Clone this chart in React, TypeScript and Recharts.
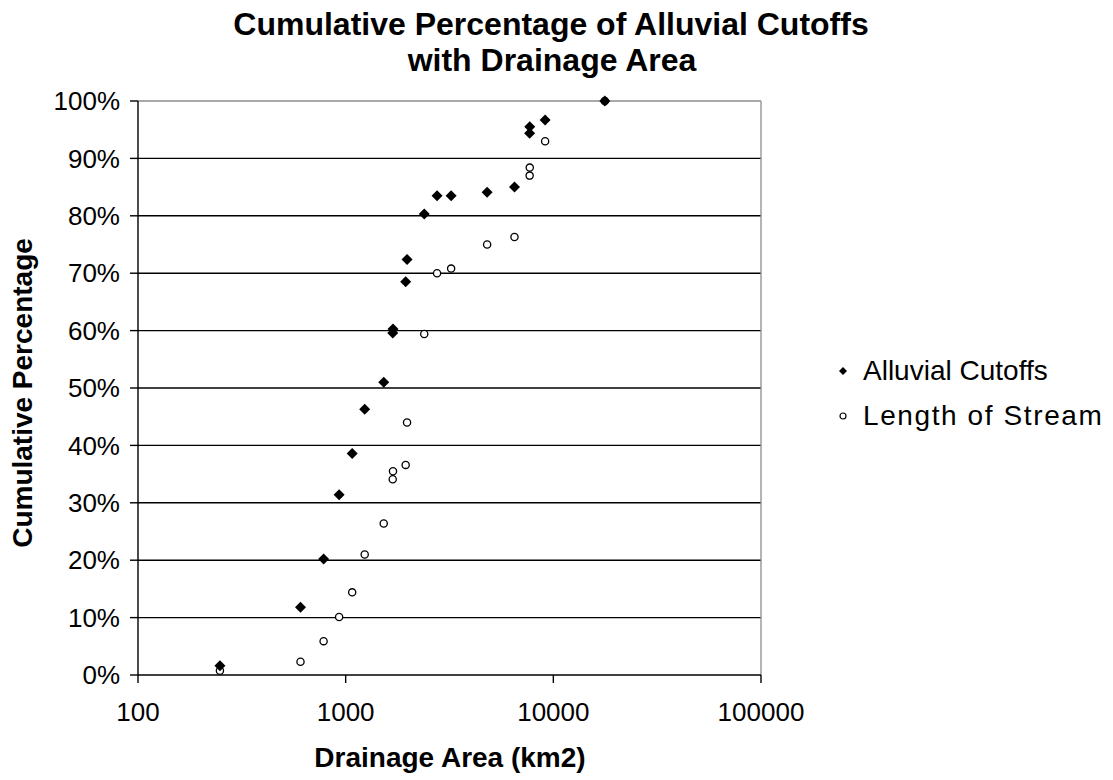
import React from 'react';
import { ScatterChart, Scatter, XAxis, YAxis, CartesianGrid, ReferenceLine, Legend } from 'recharts';

const drainageArea = [248, 606, 783, 930, 1075, 1235, 1525, 1685, 1690, 1945, 1975, 2390, 2755, 3220, 4800, 6500, 7690, 7700, 9130, 17700];
const alluvialPct = [1.6, 11.8, 20.2, 31.4, 38.6, 46.3, 51.0, 59.6, 60.3, 68.5, 72.4, 80.3, 83.5, 83.5, 84.1, 85.0, 94.4, 95.5, 96.7, 100];
const streamPct = [0.75, 2.3, 5.9, 10.1, 14.4, 21.0, 26.4, 34.1, 35.5, 36.6, 44.0, 59.4, 70.0, 70.8, 75.0, 76.3, 87.0, 88.4, 93.0, 100];
const xTicks = [100, 1000, 10000, 100000];
const yTicks = [0, 10, 20, 30, 40, 50, 60, 70, 80, 90, 100];
const gridValues = [10, 20, 30, 40, 50, 60, 70, 80, 90];
const seriesNames = ['Alluvial Cutoffs', 'Length of Stream'];

const alluvialData = drainageArea.map((x, i) => ({ x, y: alluvialPct[i] }));
const streamData = drainageArea.map((x, i) => ({ x, y: streamPct[i] }));

const FONT = '"Liberation Sans", Arial, sans-serif';

const renderDiamond = (props: any) => {
  const { cx, cy } = props;
  if (cx == null || cy == null) return <g />;
  const r = 5.5;
  return <path d={`M${cx},${cy - r}L${cx + r},${cy}L${cx},${cy + r}L${cx - r},${cy}Z`} fill="#000" />;
};

const renderCircle = (props: any) => {
  const { cx, cy } = props;
  if (cx == null || cy == null) return <g />;
  return <circle cx={cx} cy={cy} r={3.6} fill="#fff" stroke="#000" strokeWidth={1.3} />;
};

const LegendContent = () => (
  <div style={{ fontFamily: FONT, fontSize: 28, color: '#000' }}>
    {seriesNames.map((name, i) => (
      <div key={name} style={{ display: 'flex', alignItems: 'center', height: 45, lineHeight: '45px', whiteSpace: 'nowrap' }}>
        <svg width={12} height={12} style={{ marginRight: 14, flex: 'none' }}>
          {i === 0 ? (
            <path d="M6,2L10,6L6,10L2,6Z" fill="#000" />
          ) : (
            <circle cx={6} cy={6} r={3} fill="#fff" stroke="#000" strokeWidth={1.2} />
          )}
        </svg>
        <span style={{ letterSpacing: i === 0 ? 0 : 1.6 }}>{name}</span>
      </div>
    ))}
  </div>
);

export default function App() {
  return (
    <div style={{ position: 'relative', width: 1105, height: 772, fontFamily: FONT, background: '#fff' }}>
      <ScatterChart width={1105} height={772} margin={{ top: 93, right: 352, bottom: 45, left: 30 }}>
        <CartesianGrid vertical={false} horizontalValues={gridValues} stroke="#000" strokeWidth={1.4} />
        <XAxis
          type="number"
          dataKey="x"
          scale="log"
          domain={[100, 100000]}
          ticks={xTicks}
          interval={0}
          allowDataOverflow
          height={60}
          tickSize={8}
          tickMargin={20}
          stroke="#000"
          strokeWidth={1.4}
          tick={{ fill: '#000', fontSize: 26, fontFamily: FONT }}
          tickFormatter={(v: number) => String(v)}
        />
        <YAxis
          type="number"
          dataKey="y"
          domain={[0, 100]}
          ticks={yTicks}
          interval={0}
          width={100}
          tickSize={8}
          tickMargin={10}
          stroke="#000"
          strokeWidth={1.4}
          tick={{ fill: '#000', fontSize: 26, fontFamily: FONT }}
          tickFormatter={(v: number) => `${v}%`}
        />
        <ReferenceLine y={100} stroke="#8c8c8c" strokeWidth={1.3} />
        <ReferenceLine x={100000} stroke="#8c8c8c" strokeWidth={1.3} />
        <Scatter name="Length of Stream" data={streamData} shape={renderCircle} isAnimationActive={false} />
        <Scatter name="Alluvial Cutoffs" data={alluvialData} shape={renderDiamond} isAnimationActive={false} />
        <Legend
          layout="vertical"
          align="center"
          verticalAlign="middle"
          content={() => <LegendContent />}
          wrapperStyle={{ left: 829, top: 340, width: 270 }}
        />
      </ScatterChart>
      <div style={{ position: 'absolute', left: 43, top: 0, width: 1000, textAlign: 'center', fontSize: 32, lineHeight: '32px', fontWeight: 'bold', whiteSpace: 'nowrap' }}>
        Cumulative Percentage of Alluvial Cutoffs
      </div>
      <div style={{ position: 'absolute', left: 44, top: 35.5, width: 1000, textAlign: 'center', fontSize: 32, lineHeight: '32px', fontWeight: 'bold', whiteSpace: 'nowrap' }}>
        with Drainage Area
      </div>
      <div style={{ position: 'absolute', left: 42, top: 736, width: 800, textAlign: 'center', fontSize: 28, lineHeight: '28px', fontWeight: 'bold', whiteSpace: 'nowrap' }}>
        Drainage Area (km2)
      </div>
      <div style={{ position: 'absolute', left: 15, top: 385, transform: 'translate(-50%, -50%) rotate(-90deg)', fontSize: 28, lineHeight: '28px', fontWeight: 'bold', whiteSpace: 'nowrap' }}>
        Cumulative Percentage
      </div>
    </div>
  );
}
